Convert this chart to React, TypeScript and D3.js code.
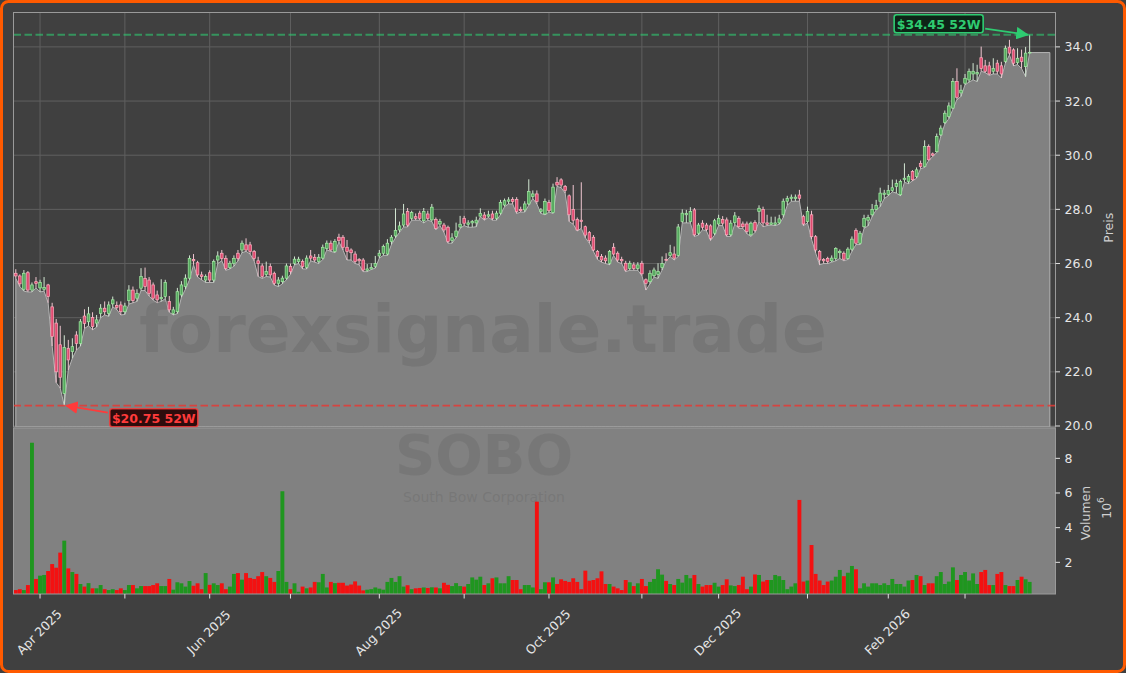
import React from "react";
import * as d3 from "d3";

// ---- data ----
const opens = [25.64,25.54,25.05,25.66,25.02,25.33,25.10,25.05,25.21,24.40,23.80,23.00,21.20,22.87,22.75,23.36,23.05,24.06,23.85,24.01,
23.80,24.16,24.35,24.16,24.51,24.45,24.47,24.22,24.63,25.02,24.72,25.09,25.45,25.39,25.21,24.84,24.70,24.78,24.60,24.16,
24.22,24.84,25.15,25.46,26.15,26.03,25.58,25.39,25.66,25.39,26.13,26.38,26.19,25.86,26.01,26.38,26.50,26.69,26.69,26.44,
26.10,25.91,25.60,25.89,25.64,25.27,25.33,25.46,25.89,26.01,26.07,26.07,25.86,26.28,26.23,26.07,26.20,26.56,26.75,26.44,
26.97,26.97,26.60,26.50,26.35,26.15,26.13,25.75,25.80,25.90,26.28,26.38,26.35,26.81,27.02,27.24,27.42,27.92,27.67,27.73,
27.86,27.58,27.83,27.61,27.63,27.46,27.42,27.34,26.85,27.00,27.35,27.67,27.45,27.50,27.50,27.75,27.79,27.75,27.83,27.67,
27.86,28.16,28.30,28.37,28.37,28.00,27.98,28.20,28.47,28.57,27.92,27.83,28.25,27.88,29.00,29.09,28.85,28.50,28.00,27.63,
27.60,27.36,27.14,26.97,26.44,26.26,26.20,26.01,26.60,26.38,26.15,26.01,25.82,25.95,25.82,26.01,25.40,25.33,25.55,25.60,
25.85,26.15,26.30,26.35,26.30,27.55,27.80,27.55,27.98,27.12,27.49,27.42,27.39,27.12,27.46,27.63,27.61,27.06,27.51,27.67,
27.46,27.46,27.06,27.51,27.92,28.00,27.50,27.45,27.45,27.50,27.80,28.30,28.40,28.40,28.53,27.73,27.55,27.80,26.99,26.44,
26.15,26.19,26.10,26.19,26.40,26.38,26.19,26.53,27.22,26.75,27.36,27.60,27.80,28.00,28.30,28.55,28.55,28.70,28.85,28.54,
29.10,29.03,29.40,29.21,29.70,29.58,30.32,30.05,30.13,30.75,31.21,31.43,31.74,32.72,32.30,32.66,32.78,33.00,33.00,33.60,
33.30,33.30,33.10,33.40,33.30,33.46,33.99,33.89,33.42,33.62,33.27,33.79];
const highs = [25.79,25.60,25.76,25.72,25.30,25.50,25.40,25.50,25.25,24.55,23.95,23.70,23.35,23.18,23.24,23.50,23.95,24.31,24.40,24.20,
24.10,24.50,24.60,24.60,24.78,24.60,24.60,24.55,25.20,25.15,25.05,25.83,25.85,25.50,25.30,25.00,25.42,25.40,24.80,24.40,
25.10,25.35,25.60,26.30,26.35,26.10,25.70,25.60,25.75,26.15,26.45,26.50,26.30,26.10,26.30,26.50,26.85,26.93,26.80,26.50,
26.25,26.00,26.07,26.00,25.70,25.50,25.55,26.00,26.00,26.26,26.25,26.15,26.30,26.50,26.35,26.35,26.70,26.85,26.85,26.90,
27.10,27.05,26.87,26.56,26.45,26.20,26.20,25.98,26.01,26.28,26.50,26.70,26.90,27.05,28.04,27.55,28.20,28.05,27.95,27.85,
27.95,28.05,27.95,28.20,27.70,27.65,27.50,27.40,27.12,27.51,27.76,27.76,27.60,27.61,27.73,28.04,27.90,27.95,27.95,27.95,
28.35,28.40,28.45,28.45,28.45,28.10,28.30,29.11,28.70,28.70,28.05,28.40,28.35,28.95,29.19,29.15,28.90,28.55,28.90,27.70,
29.00,27.40,27.20,27.05,26.50,26.35,26.30,26.50,26.75,26.45,26.25,26.10,26.10,26.05,26.05,26.10,25.45,25.75,25.85,26.01,
26.26,26.38,26.69,26.63,27.46,28.00,27.98,28.08,28.05,27.50,27.60,27.50,27.45,27.65,27.80,27.75,27.70,27.60,27.90,27.75,
27.55,27.55,27.55,27.60,28.15,28.10,27.80,27.73,27.73,27.80,28.40,28.50,28.55,28.55,28.72,27.80,28.10,27.95,27.05,26.50,
26.20,26.25,26.30,26.60,26.52,26.45,26.60,27.00,27.30,27.20,27.80,27.80,28.20,28.35,28.80,28.72,28.90,29.10,29.10,29.10,
29.70,29.30,29.45,29.55,29.80,30.55,30.40,30.10,30.80,31.10,31.65,31.95,32.85,33.21,32.60,33.00,33.20,33.40,33.34,34.01,
33.52,33.45,33.58,33.52,33.45,34.05,34.26,33.95,33.95,33.90,34.00,34.45];
const lows = [25.45,25.15,24.98,24.95,24.95,25.10,24.95,24.98,24.55,22.95,21.60,21.40,20.75,22.07,22.50,22.80,22.95,23.60,23.70,23.55,
23.65,24.00,24.10,24.05,24.40,24.30,24.10,24.12,24.50,24.55,24.60,25.00,25.00,24.80,24.65,24.55,24.60,24.70,24.20,24.10,
24.15,24.75,25.05,25.40,25.95,25.50,25.40,25.30,25.30,25.30,26.00,26.10,25.75,25.80,25.90,26.10,26.40,26.45,26.35,26.10,
25.52,25.45,25.52,25.50,25.20,25.15,25.25,25.40,25.60,25.95,26.00,25.80,25.80,26.10,26.05,26.00,26.15,26.50,26.45,26.40,
26.80,26.50,26.13,26.13,26.00,25.95,25.70,25.70,25.78,25.83,26.20,26.30,26.30,26.70,26.95,27.15,27.35,27.35,27.60,27.60,
27.60,27.50,27.60,27.55,27.25,27.40,27.15,26.75,26.75,26.95,27.30,27.40,27.34,27.34,27.36,27.73,27.60,27.70,27.60,27.60,
27.80,28.10,28.20,28.20,27.85,27.90,27.90,28.15,28.40,28.20,27.85,27.80,27.90,27.85,28.85,28.80,28.60,27.55,27.45,27.20,
27.30,26.95,26.75,26.45,26.15,26.05,26.00,25.95,26.30,26.05,26.00,25.70,25.75,25.75,25.75,25.55,25.02,25.25,25.50,25.45,
25.76,26.10,26.25,26.13,26.26,27.50,27.50,27.50,27.00,27.05,27.25,27.20,26.85,27.05,27.40,27.40,27.00,27.00,27.45,27.30,
27.30,27.10,27.00,27.15,27.55,27.36,27.40,27.42,27.40,27.45,27.70,28.15,28.30,28.30,28.30,27.40,27.50,26.90,26.40,25.95,
26.00,26.00,26.05,26.10,26.19,26.10,26.15,26.45,26.70,26.70,27.30,27.39,27.73,27.98,28.10,28.40,28.50,28.65,28.60,28.50,
29.00,28.95,29.05,29.15,29.50,29.55,29.80,29.95,30.10,30.70,31.15,31.35,31.70,32.05,32.17,32.60,32.70,32.78,32.72,33.10,
33.05,32.95,33.00,33.00,32.85,33.40,33.70,33.30,33.35,33.20,32.90,33.79];
const closes = [25.54,25.25,25.64,25.02,25.21,25.27,25.30,25.12,24.78,23.30,22.00,21.80,22.90,22.44,22.93,23.05,23.85,23.79,24.14,23.67,
23.92,24.35,24.22,24.47,24.66,24.38,24.22,24.43,25.02,24.63,24.90,25.52,25.15,24.90,24.72,24.66,24.75,25.30,24.29,24.29,
24.96,25.21,25.46,26.19,26.10,25.58,25.52,25.52,25.39,26.07,26.28,26.19,25.82,26.01,26.19,26.19,26.75,26.50,26.44,26.19,
26.00,25.52,25.70,25.58,25.27,25.39,25.46,25.91,25.70,26.16,26.16,25.89,26.20,26.20,26.13,26.23,26.60,26.75,26.50,26.81,
26.85,26.60,26.45,26.40,26.07,26.10,25.76,25.80,25.85,26.00,26.38,26.63,26.75,26.97,27.22,27.39,27.83,27.42,27.88,27.67,
27.67,27.92,27.67,28.08,27.30,27.55,27.24,26.81,26.95,27.20,27.45,27.49,27.50,27.55,27.60,27.85,27.67,27.80,27.67,27.86,
28.25,28.32,28.35,28.29,27.92,27.95,28.20,28.66,28.57,28.29,27.98,28.29,27.95,28.82,28.90,28.90,28.70,27.80,27.60,27.24,
27.55,27.05,26.85,26.50,26.26,26.13,26.10,26.44,26.35,26.13,26.10,25.76,26.01,25.82,25.95,25.62,25.27,25.64,25.76,25.70,
26.00,26.12,26.40,26.20,27.35,27.86,27.85,27.92,27.06,27.42,27.34,27.26,26.93,27.58,27.67,27.49,27.06,27.49,27.76,27.36,
27.36,27.18,27.49,27.22,28.04,27.50,27.45,27.50,27.50,27.65,28.30,28.40,28.45,28.45,28.41,27.46,27.92,26.99,26.50,26.13,
26.10,26.07,26.20,26.56,26.45,26.16,26.53,26.90,26.75,27.12,27.67,27.70,28.00,28.15,28.60,28.60,28.70,28.80,28.95,29.03,
29.15,29.21,29.09,29.46,29.58,30.32,29.83,30.00,30.69,31.00,31.55,31.82,32.72,32.14,32.40,32.84,33.09,33.10,33.05,33.20,
33.10,33.00,33.20,33.10,33.00,33.95,33.77,33.40,33.58,33.46,33.77,33.80];
// volume in millions
const volumes = [0.40,0.45,0.40,0.69,8.90,1.04,1.23,1.27,1.50,1.90,1.69,2.56,3.25,1.65,1.44,1.33,0.75,0.60,0.80,0.50,
0.50,0.69,0.45,0.40,0.45,0.40,0.50,0.40,0.69,0.69,0.50,0.63,0.63,0.63,0.69,0.79,0.63,0.63,1.04,0.42,
0.85,0.79,0.60,0.92,0.65,0.79,0.45,1.38,0.70,0.79,0.69,0.79,0.45,0.60,1.33,1.38,1.00,1.38,1.10,1.04,
1.20,1.44,1.20,1.10,0.87,1.50,6.10,0.87,0.45,0.79,0.30,0.60,0.50,0.55,0.87,0.85,1.33,0.55,0.87,0.80,
0.82,0.82,0.66,0.72,0.90,0.66,0.38,0.42,0.45,0.55,0.48,0.42,0.87,1.10,0.87,1.20,0.60,0.68,0.45,0.50,
0.52,0.55,0.52,0.56,0.55,0.50,0.82,0.70,0.63,0.80,0.63,0.60,0.75,1.13,1.00,1.17,0.69,0.79,1.08,1.13,
0.79,0.79,1.20,0.98,0.98,0.45,0.69,0.69,0.55,5.50,0.45,0.85,0.85,1.13,0.75,1.02,0.93,0.87,1.08,0.87,
0.45,1.52,0.94,0.98,1.08,1.48,0.75,0.75,0.60,0.50,0.40,0.98,0.85,0.63,0.79,1.04,0.63,0.87,1.04,1.60,
1.29,0.93,0.75,0.69,1.04,0.83,1.27,1.08,1.27,0.75,0.60,0.69,0.69,0.82,0.60,0.69,1.02,0.67,0.63,0.69,
1.17,0.45,0.60,1.30,1.27,0.89,0.98,0.98,1.27,1.20,0.98,0.45,0.60,0.79,5.60,0.89,0.95,3.00,1.33,0.95,
0.69,0.89,0.95,1.17,1.56,1.20,1.40,1.79,1.60,0.50,0.79,0.60,0.79,0.79,0.69,0.79,0.69,1.04,0.75,0.75,
0.60,0.95,0.98,1.27,1.20,0.69,0.79,0.79,1.20,1.44,0.75,0.89,1.71,0.98,1.27,1.44,0.95,1.36,0.75,1.44,
1.56,0.69,0.69,1.33,1.44,0.69,0.63,0.63,0.98,1.17,1.02,0.87];

const monthTickIdx = [6, 27, 48, 68, 90, 111, 132, 155, 174, 196, 216, 235];
const monthTickLabels = ["Apr 2025", "", "Jun 2025", "", "Aug 2025", "", "Oct 2025", "", "Dec 2025", "", "Feb 2026", ""];
const priceTicks = [20, 22, 24, 26, 28, 30, 32, 34];
const volTicks = [2, 4, 6, 8];
const high52 = 34.45;
const low52 = 20.75;
const high52Idx = 251;
const low52Idx = 12;
const areaExtendIdx = 256;
const watermark = "forexsignale.trade";
const ticker = "SOBO";
const company = "South Bow Corporation";

const FONT = "DejaVu Sans, Verdana, sans-serif";

export default function App() {
  const W = 1126, H = 673;
  const L = 13.5, R = 1055.5, pTop = 12.5, pBot = 427, vTop = 428, vBot = 594;

  const x = d3.scaleLinear().domain([-0.57, 257.4]).range([L, R]);
  const yP = d3.scaleLinear().domain([19.963, 35.27]).range([pBot, pTop]);
  const yV = d3.scaleLinear().domain([0.173, 9.75]).range([vBot, vTop]);

  const areaPts = lows.map((v, i) => ({ i, v }));
  areaPts.push({ i: areaExtendIdx, v: lows[lows.length - 1] });
  const areaGen = d3.area<{ i: number; v: number }>()
    .x((d) => x(d.i))
    .y0(pBot)
    .y1((d) => yP(d.v));
  const areaPath = areaGen(areaPts) || "";

  const bw = 2.6;
  const vw = 3.9;

  const hx = x(high52Idx), hy = yP(high52);
  const lx = x(low52Idx), ly = yP(low52);
  const hBox = { x: hx - 135.5, y: hy - 20, w: 89, h: 18 };
  const lBox = { x: lx + 45.5, y: ly + 3, w: 88, h: 18 };

  const green = "#2ecc71";
  const red = "#ff3b3b";

  return (
    <div style={{ position: "absolute", left: 0, top: 0, width: W, height: H }}>
      <svg width={W} height={H} style={{ display: "block" }} fontFamily={FONT}>
        <defs>
          <clipPath id="pclip"><rect x={L} y={pTop} width={R - L} height={pBot - pTop} /></clipPath>
          <clipPath id="vclip"><rect x={L} y={vTop} width={R - L} height={vBot - vTop} /></clipPath>
          <marker id="arrG" viewBox="0 0 10 10" refX="9" refY="5" markerWidth="7" markerHeight="7" orient="auto">
            <path d="M0,0 L10,5 L0,10 z" fill={green} />
          </marker>
          <marker id="arrR" viewBox="0 0 10 10" refX="9" refY="5" markerWidth="7" markerHeight="7" orient="auto">
            <path d="M0,0 L10,5 L0,10 z" fill={red} />
          </marker>
        </defs>
        <rect x={0} y={0} width={W} height={H} fill="#404040" />
        <rect x={1.5} y={1.5} width={W - 3} height={H - 3} rx={7} fill="none" stroke="#ff5a00" strokeWidth={3} />

        {/* price panel */}
        <rect x={L} y={pTop} width={R - L} height={pBot - pTop} fill="#404040" />
        <g clipPath="url(#pclip)">
          {priceTicks.map((t) => (
            <line key={"gy" + t} x1={L} x2={R} y1={yP(t)} y2={yP(t)} stroke="#5f5f5f" strokeWidth={1} />
          ))}
          {monthTickIdx.map((t) => (
            <line key={"gx" + t} x1={x(t)} x2={x(t)} y1={pTop} y2={pBot} stroke="#5f5f5f" strokeWidth={1} />
          ))}
          <path d={areaPath} fill="#818181" stroke="#b5b5b5" strokeWidth={1} />
          <text x={483} y={352} textAnchor="middle" fontSize={66} fontWeight="bold" fill="#5a5a5a" fillOpacity={0.28}>{watermark}</text>
          {closes.map((c, i) => {
            const o = opens[i];
            const up = c >= o;
            const top = yP(Math.max(o, c));
            const bh = Math.max(0.8, Math.abs(yP(o) - yP(c)));
            return (
              <g key={"c" + i}>
                <line x1={x(i)} x2={x(i)} y1={yP(highs[i])} y2={yP(lows[i])} stroke={up ? "#d2e6d2" : "#efc6d0"} strokeWidth={1} />
                <rect x={x(i) - bw / 2} y={top} width={bw} height={bh} fill={up ? "#55a85e" : "#e04a70"} stroke={up ? "#a4eba4" : "#ffb0c0"} strokeWidth={0.7} />
              </g>
            );
          })}
          <line x1={L} x2={R} y1={hy} y2={hy} stroke={green} strokeOpacity={0.6} strokeWidth={2} strokeDasharray="7.5,3.5" />
          <line x1={L} x2={R} y1={ly} y2={ly} stroke="#e53935" strokeOpacity={0.85} strokeWidth={1.8} strokeDasharray="7.5,3.5" />
        </g>
        <rect x={L} y={pTop} width={R - L} height={pBot - pTop} fill="none" stroke="#9a9a9a" strokeWidth={1} />

        {/* 52W annotations */}
        <line x1={hBox.x + hBox.w + 2} y1={hBox.y + hBox.h - 4} x2={hx - 2} y2={hy} stroke={green} strokeWidth={1.8} markerEnd="url(#arrG)" />
        <rect x={hBox.x} y={hBox.y} width={hBox.w} height={hBox.h} rx={2.5} fill="#0e2417" stroke={green} strokeWidth={1.6} />
        <text x={hBox.x + hBox.w / 2} y={hBox.y + hBox.h / 2 + 0.5} textAnchor="middle" dominantBaseline="central" fontSize={12.5} fontWeight="bold" fill={green}>{"$" + high52.toFixed(2) + " 52W"}</text>

        <line x1={lBox.x - 2} y1={lBox.y + 4} x2={lx + 2} y2={ly} stroke={red} strokeWidth={1.8} markerEnd="url(#arrR)" />
        <rect x={lBox.x} y={lBox.y} width={lBox.w} height={lBox.h} rx={2.5} fill="#2e0c0c" stroke={red} strokeOpacity={0.8} strokeWidth={1.6} />
        <text x={lBox.x + lBox.w / 2} y={lBox.y + lBox.h / 2 + 0.5} textAnchor="middle" dominantBaseline="central" fontSize={12.5} fontWeight="bold" fill={red}>{"$" + low52.toFixed(2) + " 52W"}</text>

        {/* volume panel */}
        <rect x={L} y={vTop} width={R - L} height={vBot - vTop} fill="#818181" />
        <g clipPath="url(#vclip)">
          <text x={484} y={474} textAnchor="middle" fontSize={56} fontWeight="bold" fill="#5a5a5a" fillOpacity={0.25}>{ticker}</text>
          <text x={484} y={502} textAnchor="middle" fontSize={14} fill="#5a5a5a" fillOpacity={0.25}>{company}</text>
          {volumes.map((v, i) => (
            <rect key={"v" + i} x={x(i) - vw / 2} y={yV(v)} width={vw} height={vBot - yV(v) + 2}
              fill={closes[i] >= opens[i] ? "#1f961f" : "#f31111"} />
          ))}
        </g>
        <rect x={L} y={vTop} width={R - L} height={vBot - vTop} fill="none" stroke="#9a9a9a" strokeWidth={1} />

        {/* right axis: price */}
        {priceTicks.map((t) => (
          <g key={"pt" + t}>
            <line x1={R} x2={R + 4.5} y1={yP(t)} y2={yP(t)} stroke="#e0e0e0" strokeWidth={1} />
            <text x={R + 9} y={yP(t)} dominantBaseline="central" fontSize={12.5} fill="#e6e6e6">{t.toFixed(1)}</text>
          </g>
        ))}
        <text transform={`translate(1108,${(pTop + pBot) / 2 + 8}) rotate(-90)`} textAnchor="middle" dominantBaseline="central" fontSize={12.5} fill="#d0d0d0">Preis</text>

        {/* right axis: volume */}
        {volTicks.map((t) => (
          <g key={"vt" + t}>
            <line x1={R} x2={R + 4.5} y1={yV(t)} y2={yV(t)} stroke="#e0e0e0" strokeWidth={1} />
            <text x={R + 9} y={yV(t)} dominantBaseline="central" fontSize={12.5} fill="#e6e6e6">{t}</text>
          </g>
        ))}
        <text transform="translate(1085,513) rotate(-90)" textAnchor="middle" dominantBaseline="central" fontSize={12.5} fill="#d0d0d0">Volumen</text>
        <text transform="translate(1106,508) rotate(-90)" textAnchor="middle" dominantBaseline="central" fontSize={12.5} fill="#d0d0d0">
          10<tspan dy={-5} fontSize={9}>6</tspan>
        </text>

        {/* x axis */}
        {monthTickIdx.map((t, k) => (
          <g key={"xt" + t}>
            <line x1={x(t)} x2={x(t)} y1={vBot} y2={vBot + 4.5} stroke="#e0e0e0" strokeWidth={1} />
            {monthTickLabels[k] && (
              <text transform={`translate(${x(t) - 1},632) rotate(-45)`} textAnchor="middle" dominantBaseline="central" fontSize={12.5} fill="#e6e6e6">{monthTickLabels[k]}</text>
            )}
          </g>
        ))}
      </svg>
    </div>
  );
}
